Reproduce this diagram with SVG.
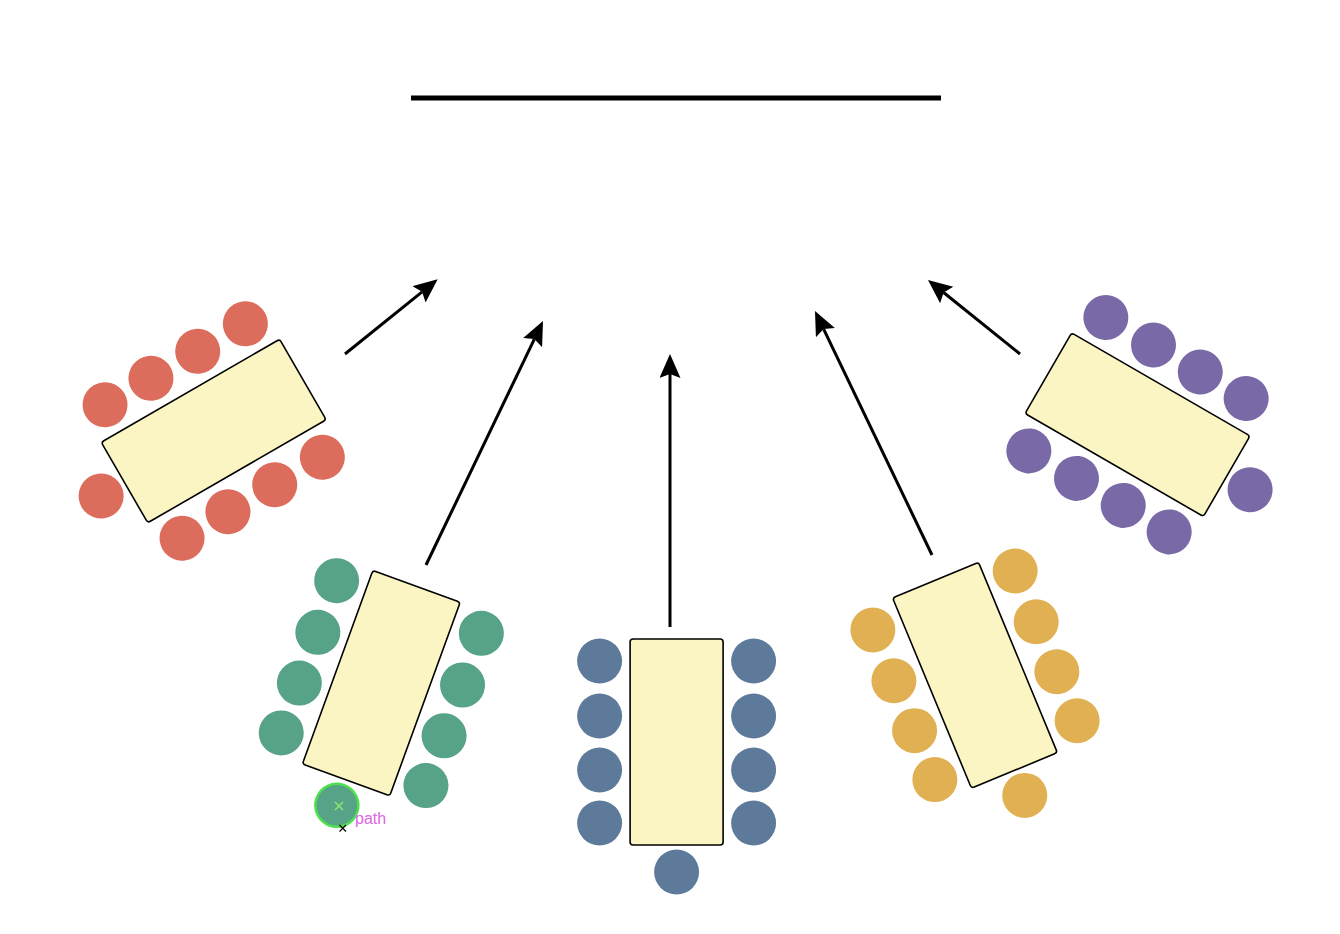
<svg xmlns="http://www.w3.org/2000/svg" width="1340" height="934" viewBox="0 0 1340 934">
<style>
.table{fill:#faf5c2;stroke:#000;stroke-width:1.6}
.red{fill:#dc6c5c}
.green{fill:#57a387}
.blue{fill:#5e7a9b}
.yellow{fill:#e0b052}
.purple{fill:#796aa7}
.arrow{fill:none;stroke:#000;stroke-width:3;marker-end:url(#head)}
.sel{stroke:#4ee04e;stroke-width:2.5}
.lbl{font-family:"Liberation Sans",Arial,sans-serif;font-size:16px;fill:#e066e6}
</style>
<defs>
<marker id="head" markerUnits="userSpaceOnUse" markerWidth="26" markerHeight="22" refX="4" refY="10.5" orient="auto">
<path d="M0,0 L24,10.5 L0,21 L4,10.5 z" fill="#000"/>
</marker>
</defs>
<line id="screen" x1="411" y1="98" x2="941" y2="98" stroke="#000" stroke-width="5"/>
<g id="connectors">
<path class="arrow" d="M345,354 L422.1,291.85"/>
<path class="arrow" d="M426,565 L534.35,339.03"/>
<path class="arrow" d="M670,627 L670,374"/>
<path class="arrow" d="M932,555 L823.65,329.03"/>
<path class="arrow" d="M1020,354 L943.58,292.53"/>
</g>
<g id="table-red" transform="translate(213.7,431) rotate(60)">
<rect class="table" x="-46.5" y="-103" width="93" height="206" rx="3"/>
<g class="red">
<circle cx="-77" cy="-81" r="22.5"/><circle cx="-77" cy="-26" r="22.5"/><circle cx="-77" cy="28" r="22.5"/><circle cx="-77" cy="81" r="22.5"/>
<circle cx="77" cy="-81" r="22.5"/><circle cx="77" cy="-26" r="22.5"/><circle cx="77" cy="28" r="22.5"/><circle cx="77" cy="81" r="22.5"/>
<circle cx="0" cy="130" r="22.5"/>
</g>
</g>
<g id="table-green" transform="translate(381.3,683.1) rotate(20)">
<rect class="table" x="-46.5" y="-103" width="93" height="206" rx="3"/>
<g class="green">
<circle cx="-77" cy="-81" r="22.5"/><circle cx="-77" cy="-26" r="22.5"/><circle cx="-77" cy="28" r="22.5"/><circle cx="-77" cy="81" r="22.5"/>
<circle cx="77" cy="-81" r="22.5"/><circle cx="77" cy="-26" r="22.5"/><circle cx="77" cy="28" r="22.5"/><circle cx="77" cy="81" r="22.5"/>
<circle class="sel" cx="0" cy="130" r="21.5"/>
</g>
</g>
<g id="selection-handles">
<path d="M335,802 L343,810 M343,802 L335,810" stroke="#8ee86e" stroke-width="1.5"/>
<path d="M339.5,825 L346,831.5 M346,825 L339.5,831.5" stroke="#000" stroke-width="1.2"/>
<text class="lbl" x="355" y="824">path</text>
</g>
<g id="table-blue" transform="translate(676.6,742)">
<rect class="table" x="-46.5" y="-103" width="93" height="206" rx="3"/>
<g class="blue">
<circle cx="-77" cy="-81" r="22.5"/><circle cx="-77" cy="-26" r="22.5"/><circle cx="-77" cy="28" r="22.5"/><circle cx="-77" cy="81" r="22.5"/>
<circle cx="77" cy="-81" r="22.5"/><circle cx="77" cy="-26" r="22.5"/><circle cx="77" cy="28" r="22.5"/><circle cx="77" cy="81" r="22.5"/>
<circle cx="0" cy="130" r="22.5"/>
</g>
</g>
<g id="table-yellow" transform="translate(975,675.3) rotate(-22.5)">
<rect class="table" x="-46.5" y="-103" width="93" height="206" rx="3"/>
<g class="yellow">
<circle cx="-77" cy="-81" r="22.5"/><circle cx="-77" cy="-26" r="22.5"/><circle cx="-77" cy="28" r="22.5"/><circle cx="-77" cy="81" r="22.5"/>
<circle cx="77" cy="-81" r="22.5"/><circle cx="77" cy="-26" r="22.5"/><circle cx="77" cy="28" r="22.5"/><circle cx="77" cy="81" r="22.5"/>
<circle cx="0" cy="130" r="22.5"/>
</g>
</g>
<g id="table-purple" transform="translate(1137.5,424.7) rotate(-60)">
<rect class="table" x="-46.5" y="-103" width="93" height="206" rx="3"/>
<g class="purple">
<circle cx="-77" cy="-81" r="22.5"/><circle cx="-77" cy="-26" r="22.5"/><circle cx="-77" cy="28" r="22.5"/><circle cx="-77" cy="81" r="22.5"/>
<circle cx="77" cy="-81" r="22.5"/><circle cx="77" cy="-26" r="22.5"/><circle cx="77" cy="28" r="22.5"/><circle cx="77" cy="81" r="22.5"/>
<circle cx="0" cy="130" r="22.5"/>
</g>
</g>
</svg>
